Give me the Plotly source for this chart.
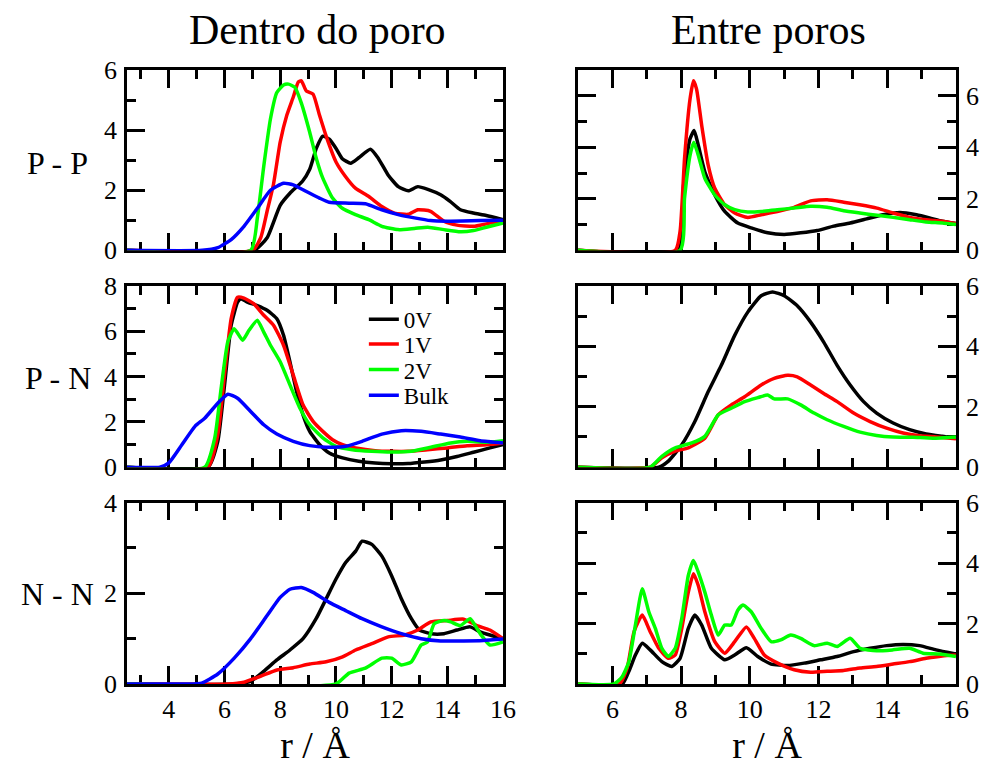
import plotly.graph_objects as go

# ---------------- data ----------------
series_names = ["0V", "1V", "2V", "Bulk"]
series_colors = ["#000000", "#ff0000", "#00ff00", "#0000ff"]

# P - P, Dentro do poro
pp_in_x_0V = [2.5, 7.06, 7.53, 8.0, 8.35, 8.8, 9.06, 9.3, 9.53, 9.76, 10.0, 10.23, 10.53, 10.82, 11.24, 11.53, 11.88, 12.24, 12.6, 12.94, 13.3, 13.76, 14.1, 14.47, 14.94, 15.4, 16.0]
pp_in_y_0V = [0, 0, 0.42, 1.5, 1.9, 2.3, 2.7, 3.4, 3.8, 3.7, 3.4, 3.05, 2.9, 3.08, 3.36, 3.05, 2.5, 2.12, 1.98, 2.12, 2.03, 1.85, 1.63, 1.35, 1.24, 1.16, 1.02]
pp_in_x_1V = [2.5, 7.0, 7.3, 7.53, 7.76, 8.0, 8.24, 8.47, 8.65, 8.76, 8.94, 9.18, 9.41, 9.65, 10.0, 10.35, 10.7, 11.18, 11.65, 12.1, 12.6, 12.94, 13.4, 13.88, 14.35, 14.94, 15.4, 16.0]
pp_in_y_1V = [0, 0, 0.42, 1.3, 2.2, 3.6, 4.5, 5.1, 5.6, 5.64, 5.3, 5.2, 4.5, 3.8, 2.95, 2.45, 2.07, 1.79, 1.46, 1.24, 1.2, 1.35, 1.3, 0.97, 0.84, 0.8, 0.88, 0.99]
pp_in_x_2V = [2.5, 6.94, 7.18, 7.41, 7.65, 7.88, 8.12, 8.3, 8.53, 8.76, 9.06, 9.3, 9.53, 9.88, 10.23, 10.7, 11.18, 11.65, 12.24, 12.82, 13.3, 13.88, 14.47, 14.94, 15.4, 16.0]
pp_in_y_2V = [0, 0, 1.08, 2.8, 4.37, 5.25, 5.5, 5.53, 5.42, 4.9, 3.93, 3.05, 2.4, 1.74, 1.4, 1.19, 1.02, 0.8, 0.69, 0.73, 0.77, 0.69, 0.62, 0.66, 0.77, 0.91]
pp_in_x_Bulk = [2.5, 5.2, 5.76, 6.24, 6.7, 7.18, 7.65, 8.12, 8.47, 8.94, 9.41, 9.76, 10.47, 11.06, 11.65, 12.24, 12.82, 13.4, 14.0, 15.18, 16.0]
pp_in_y_Bulk = [0, 0, 0.09, 0.36, 0.8, 1.4, 2.0, 2.23, 2.18, 1.96, 1.74, 1.6, 1.57, 1.55, 1.35, 1.19, 1.08, 0.99, 0.97, 0.99, 1.0]

# P - P, Entre poros
pp_out_x_0V = [5, 7.92, 8.07, 8.26, 8.38, 8.5, 8.69, 8.98, 9.27, 9.65, 10.04, 10.52, 11.0, 11.48, 11.96, 12.44, 12.92, 13.4, 13.88, 14.37, 14.85, 15.23, 15.6, 16]
pp_out_y_0V = [0, 0, 2.5, 4.33, 4.65, 4.08, 3.05, 2.15, 1.51, 1.06, 0.87, 0.68, 0.62, 0.68, 0.77, 0.94, 1.06, 1.22, 1.38, 1.47, 1.38, 1.26, 1.13, 1.04]
pp_out_x_1V = [5, 7.83, 7.97, 8.1, 8.26, 8.36, 8.45, 8.6, 8.79, 8.98, 9.27, 9.56, 9.94, 10.33, 10.8, 11.29, 11.77, 12.25, 12.73, 13.2, 13.7, 14.17, 14.65, 15.13, 15.6, 16]
pp_out_y_1V = [0, 0, 0.74, 3.56, 5.87, 6.58, 6.26, 4.85, 3.3, 2.41, 1.77, 1.45, 1.28, 1.38, 1.51, 1.67, 1.92, 1.96, 1.87, 1.77, 1.64, 1.45, 1.28, 1.19, 1.13, 1.04]
pp_out_x_2V = [5, 7.97, 8.1, 8.26, 8.37, 8.5, 8.69, 8.98, 9.27, 9.56, 9.94, 10.33, 10.8, 11.29, 11.77, 12.25, 12.73, 13.2, 13.7, 14.17, 14.65, 15.13, 15.6, 16]
pp_out_y_2V = [0, 0, 2.03, 3.69, 4.2, 3.69, 2.8, 2.15, 1.77, 1.58, 1.49, 1.51, 1.58, 1.64, 1.71, 1.67, 1.54, 1.45, 1.36, 1.28, 1.19, 1.1, 1.06, 1.0]

# P - N, Dentro do poro
pn_in_x_0V = [2.5, 5.41, 5.76, 6.0, 6.24, 6.47, 6.59, 6.82, 7.18, 7.53, 7.88, 8.12, 8.35, 8.59, 8.82, 9.06, 9.41, 9.76, 10.24, 10.82, 11.41, 12.0, 12.59, 13.18, 13.76, 14.35, 14.94, 15.53, 16]
pn_in_y_0V = [0, 0, 1.14, 3.6, 6.26, 7.28, 7.43, 7.28, 7.13, 6.92, 6.55, 5.82, 4.65, 3.33, 2.31, 1.58, 1.0, 0.63, 0.41, 0.26, 0.18, 0.15, 0.16, 0.23, 0.32, 0.47, 0.66, 0.85, 1.0]
pn_in_x_1V = [2.5, 5.41, 5.76, 6.0, 6.24, 6.47, 6.7, 7.06, 7.41, 7.76, 8.12, 8.47, 8.82, 9.18, 9.53, 9.88, 10.24, 10.71, 11.41, 12.0, 12.59, 13.29, 14.0, 14.71, 15.41, 16]
pn_in_y_1V = [0, 0, 1.43, 4.06, 6.55, 7.5, 7.46, 7.2, 6.7, 6.26, 5.38, 4.06, 2.75, 2.02, 1.58, 1.21, 0.99, 0.85, 0.73, 0.7, 0.7, 0.77, 0.85, 0.95, 0.99, 1.07]
pn_in_x_2V = [2.5, 5.29, 5.65, 5.88, 6.12, 6.35, 6.65, 6.88, 7.18, 7.41, 7.65, 8.0, 8.35, 8.71, 9.06, 9.53, 10.0, 10.59, 11.29, 12.0, 12.71, 13.41, 14.12, 14.71, 15.41, 16]
pn_in_y_2V = [0, 0, 1.29, 3.48, 5.53, 6.11, 5.6, 6.04, 6.48, 5.96, 5.38, 4.65, 3.63, 2.6, 1.87, 1.29, 0.92, 0.77, 0.7, 0.67, 0.7, 0.88, 1.07, 1.14, 1.1, 1.17]
pn_in_x_Bulk = [2.5, 3.68, 4.0, 4.47, 4.94, 5.29, 5.76, 6.12, 6.47, 6.94, 7.41, 7.88, 8.47, 9.06, 9.65, 10.35, 10.94, 11.65, 12.35, 13.06, 13.76, 14.47, 15.18, 16]
pn_in_y_Bulk = [0, 0, 0.19, 0.99, 1.8, 2.16, 2.82, 3.22, 3.04, 2.46, 1.87, 1.46, 1.14, 0.95, 0.88, 0.92, 1.14, 1.46, 1.61, 1.58, 1.46, 1.33, 1.17, 1.07]

# P - N, Entre poros
pn_out_x_0V = [5, 7.35, 7.63, 8.02, 8.4, 8.79, 9.17, 9.56, 9.94, 10.33, 10.66, 11.0, 11.38, 11.77, 12.15, 12.54, 12.92, 13.31, 13.69, 14.17, 14.65, 15.13, 15.6, 16]
pn_out_y_0V = [0, 0, 0.2, 0.74, 1.51, 2.5, 3.37, 4.36, 5.13, 5.67, 5.8, 5.67, 5.34, 4.8, 4.14, 3.37, 2.72, 2.17, 1.79, 1.46, 1.24, 1.1, 1.02, 0.96]
pn_out_x_1V = [5, 7.1, 7.44, 7.83, 8.21, 8.69, 9.08, 9.46, 9.85, 10.33, 10.71, 11.1, 11.38, 11.77, 12.15, 12.54, 13.02, 13.5, 13.98, 14.46, 14.94, 15.42, 16]
pn_out_y_1V = [0, 0, 0.31, 0.53, 0.64, 0.96, 1.73, 2.06, 2.33, 2.72, 2.94, 3.04, 2.99, 2.72, 2.44, 2.17, 1.79, 1.51, 1.29, 1.13, 1.04, 1.0, 0.94]
pn_out_x_2V = [5, 7.1, 7.44, 7.83, 8.31, 8.69, 9.08, 9.46, 9.85, 10.23, 10.52, 10.71, 11.1, 11.48, 11.87, 12.25, 12.73, 13.21, 13.69, 14.17, 14.75, 15.33, 16]
pn_out_y_2V = [0, 0, 0.36, 0.64, 0.8, 1.02, 1.73, 1.95, 2.17, 2.3, 2.39, 2.26, 2.26, 2.06, 1.79, 1.57, 1.35, 1.16, 1.05, 1.0, 0.99, 0.96, 1.0]

# N - N, Dentro do poro
nn_in_x_0V = [2.5, 6.35, 6.94, 7.41, 7.88, 8.35, 8.82, 9.29, 9.65, 10.0, 10.35, 10.71, 10.94, 11.29, 11.65, 12.0, 12.35, 12.71, 13.0, 13.41, 13.88, 14.35, 14.82, 15.18, 15.53, 16]
nn_in_y_0V = [0, 0, 0.06, 0.28, 0.53, 0.75, 1.0, 1.44, 1.88, 2.31, 2.68, 2.93, 3.15, 3.08, 2.82, 2.39, 1.88, 1.44, 1.19, 1.11, 1.11, 1.19, 1.26, 1.15, 1.08, 1.0]
nn_in_x_1V = [2.5, 6.12, 6.7, 7.29, 7.88, 8.47, 9.06, 9.65, 10.24, 10.71, 11.29, 11.88, 12.47, 12.94, 13.41, 14.0, 14.59, 15.06, 15.53, 16]
nn_in_y_1V = [0, 0, 0.04, 0.17, 0.31, 0.36, 0.44, 0.49, 0.6, 0.75, 0.89, 1.04, 1.08, 1.19, 1.37, 1.4, 1.43, 1.29, 1.19, 1.0]
nn_in_x_2V = [2.5, 10.0, 10.47, 11.06, 11.65, 12.0, 12.35, 12.71, 13.06, 13.29, 13.53, 13.88, 14.12, 14.47, 14.82, 15.18, 15.53, 16]
nn_in_y_2V = [0, 0, 0.24, 0.35, 0.57, 0.57, 0.42, 0.49, 0.86, 0.93, 1.33, 1.4, 1.37, 1.29, 1.44, 1.11, 0.86, 0.93]
nn_in_x_Bulk = [2.5, 4.6, 5.18, 5.76, 6.35, 6.94, 7.53, 8.0, 8.35, 8.76, 9.18, 9.76, 10.35, 10.94, 11.65, 12.35, 13.06, 13.76, 14.59, 15.29, 16]
nn_in_y_Bulk = [0, 0, 0.02, 0.22, 0.57, 1.0, 1.51, 1.91, 2.09, 2.13, 2.02, 1.8, 1.62, 1.44, 1.26, 1.11, 1.0, 0.95, 0.95, 0.96, 0.99]

# N - N, Entre poros
nn_out_x_0V = [5, 6.29, 6.48, 6.67, 6.87, 7.1, 7.44, 7.73, 7.97, 8.21, 8.4, 8.6, 8.88, 9.27, 9.56, 9.9, 10.23, 10.62, 11.1, 11.58, 12.06, 12.54, 13.02, 13.5, 13.98, 14.46, 14.94, 15.42, 16]
nn_out_y_0V = [0, 0, 0.42, 0.96, 1.35, 1.13, 0.74, 0.58, 0.85, 1.84, 2.28, 1.95, 1.18, 0.8, 0.96, 1.2, 0.91, 0.66, 0.61, 0.69, 0.8, 0.91, 1.07, 1.18, 1.27, 1.31, 1.27, 1.13, 0.99]
nn_out_x_1V = [5, 6.2, 6.43, 6.63, 6.87, 7.1, 7.35, 7.63, 7.83, 8.02, 8.21, 8.36, 8.5, 8.69, 8.98, 9.27, 9.56, 9.9, 10.13, 10.42, 10.81, 11.29, 11.77, 12.25, 12.73, 13.21, 13.69, 14.17, 14.65, 15.13, 15.6, 16]
nn_out_y_1V = [0, 0, 0.53, 1.73, 2.28, 1.73, 1.18, 0.85, 0.96, 1.84, 3.04, 3.65, 3.26, 2.39, 1.4, 1.02, 1.4, 1.89, 1.51, 0.96, 0.69, 0.47, 0.39, 0.42, 0.45, 0.53, 0.58, 0.66, 0.74, 0.85, 0.93, 0.96]
nn_out_x_2V = [5, 6.05, 6.29, 6.48, 6.67, 6.87, 7.06, 7.25, 7.44, 7.63, 7.83, 8.02, 8.21, 8.36, 8.5, 8.69, 8.88, 9.08, 9.27, 9.46, 9.65, 9.8, 10.04, 10.33, 10.62, 10.9, 11.19, 11.48, 11.87, 12.25, 12.54, 12.92, 13.21, 13.69, 14.17, 14.65, 15.04, 15.52, 16]
nn_out_y_2V = [0, 0, 0.25, 0.74, 1.95, 3.15, 2.39, 1.84, 1.18, 0.91, 1.18, 2.17, 3.59, 4.09, 3.7, 3.04, 2.28, 1.62, 1.95, 1.95, 2.44, 2.61, 2.39, 1.84, 1.4, 1.46, 1.62, 1.51, 1.27, 1.35, 1.24, 1.51, 1.18, 1.1, 1.13, 1.18, 1.02, 0.99, 0.91]

col_titles = ["Dentro do poro", "Entre poros"]
row_labels = ["P - P", "P - N", "N - N"]
x_title = "r / Å"

x_range_in = [2.5, 16]
x_range_out = [5, 16]
y_ranges_in = [[0, 6], [0, 8], [0, 4]]
y_ranges_out = [[0, 7], [0, 6], [0, 6]]

# ---------------- figure ----------------
FONT = "Liberation Serif, Times New Roman, serif"
panels = [
    (1, [(pp_in_x_0V, pp_in_y_0V, 0), (pp_in_x_1V, pp_in_y_1V, 1), (pp_in_x_2V, pp_in_y_2V, 2), (pp_in_x_Bulk, pp_in_y_Bulk, 3)]),
    (2, [(pp_out_x_0V, pp_out_y_0V, 0), (pp_out_x_1V, pp_out_y_1V, 1), (pp_out_x_2V, pp_out_y_2V, 2)]),
    (3, [(pn_in_x_0V, pn_in_y_0V, 0), (pn_in_x_1V, pn_in_y_1V, 1), (pn_in_x_2V, pn_in_y_2V, 2), (pn_in_x_Bulk, pn_in_y_Bulk, 3)]),
    (4, [(pn_out_x_0V, pn_out_y_0V, 0), (pn_out_x_1V, pn_out_y_1V, 1), (pn_out_x_2V, pn_out_y_2V, 2)]),
    (5, [(nn_in_x_0V, nn_in_y_0V, 0), (nn_in_x_1V, nn_in_y_1V, 1), (nn_in_x_2V, nn_in_y_2V, 2), (nn_in_x_Bulk, nn_in_y_Bulk, 3)]),
    (6, [(nn_out_x_0V, nn_out_y_0V, 0), (nn_out_x_1V, nn_out_y_1V, 1), (nn_out_x_2V, nn_out_y_2V, 2)]),
]
legend_ids = ["legend", "legend2", "legend3", "legend4"]

fig = go.Figure()
for idx, series in panels:
    sfx = "" if idx == 1 else str(idx)
    for xs, ys, k in series:
        fig.add_trace(go.Scatter(
            x=xs, y=ys, mode="lines", name=series_names[k],
            line=dict(color=series_colors[k], width=3.5, shape="spline", smoothing=0.5),
            xaxis="x" + sfx, yaxis="y" + sfx,
            showlegend=(idx == 3), legend=legend_ids[k],
        ))

W, H = 991, 769
ML, MR, MT, MB = 127, 24, 70, 76
PW, PH = W - ML - MR, H - MT - MB
col_dom = [[0, (508 - ML) / PW], [(584 - ML) / PW, 1]]
rows_px = [(70, 253), (289, 473), (509, 693)]
row_dom = [[(H - MB - b) / PH, (H - MB - t) / PH] for t, b in rows_px]

def base_axis():
    return dict(
        showline=True, linecolor="black", linewidth=2.5, mirror="ticks",
        ticks="inside", ticklen=18, tickwidth=2.5, tickcolor="black",
        minor=dict(ticks="inside", ticklen=9, tickwidth=2.5, tickcolor="black", dtick=1),
        showgrid=False, zeroline=False, layer="below traces",
        tick0=0, dtick=2,
    )

layout_axes = {}
for r in range(3):
    for c in range(2):
        idx = r * 2 + c + 1
        sfx = "" if idx == 1 else str(idx)
        xa = base_axis()
        xa.update(domain=col_dom[c], anchor="y" + sfx,
                  range=x_range_in if c == 0 else x_range_out,
                  showticklabels=(r == 2))
        if r == 2:
            xa["title"] = dict(text=x_title, font=dict(family=FONT, size=38, color="black"), standoff=6)
        ya = base_axis()
        ya.update(domain=row_dom[r], anchor="x" + sfx,
                  range=y_ranges_in[r] if c == 0 else y_ranges_out[r],
                  side="left" if c == 0 else "right", ticklabelstandoff=2)
        layout_axes["xaxis" + sfx] = xa
        layout_axes["yaxis" + sfx] = ya

annotations = []
for c, t in enumerate(col_titles):
    cx = [320, 777][c]
    annotations.append(dict(text=t, x=(cx - ML) / PW, y=(H - MB - 29) / PH, xref="paper", yref="paper",
                            showarrow=False, font=dict(family=FONT, size=42, color="black"),
                            xanchor="center", yanchor="middle"))
for r, t in enumerate(row_labels):
    cy = [164, 383, 602][r]
    annotations.append(dict(text=t, x=(57 - ML) / PW, y=(H - MB - cy) / PH, xref="paper", yref="paper",
                            showarrow=False, font=dict(family=FONT, size=32, color="black"),
                            xanchor="center", yanchor="middle"))

legend_layouts = {}
legend_centers_px = [323, 348, 374, 400]
for k, lid in enumerate(legend_ids):
    legend_layouts[lid] = dict(
        x=(367 - ML) / PW, y=(H - MB - legend_centers_px[k]) / PH, xanchor="left", yanchor="middle",
        bgcolor="rgba(0,0,0,0)", font=dict(family=FONT, size=23, color="black"),
        itemwidth=30, tracegroupgap=0,
    )

fig.update_layout(
    width=W, height=H,
    margin=dict(l=ML, r=MR, t=MT, b=MB),
    paper_bgcolor="white", plot_bgcolor="white",
    font=dict(family=FONT, color="black", size=26),
    annotations=annotations,
    **legend_layouts,
    **layout_axes,
)
fig.update_xaxes(tickfont=dict(family=FONT, size=26, color="black"))
fig.update_yaxes(tickfont=dict(family=FONT, size=26, color="black"))

fig.write_html("out.html")
